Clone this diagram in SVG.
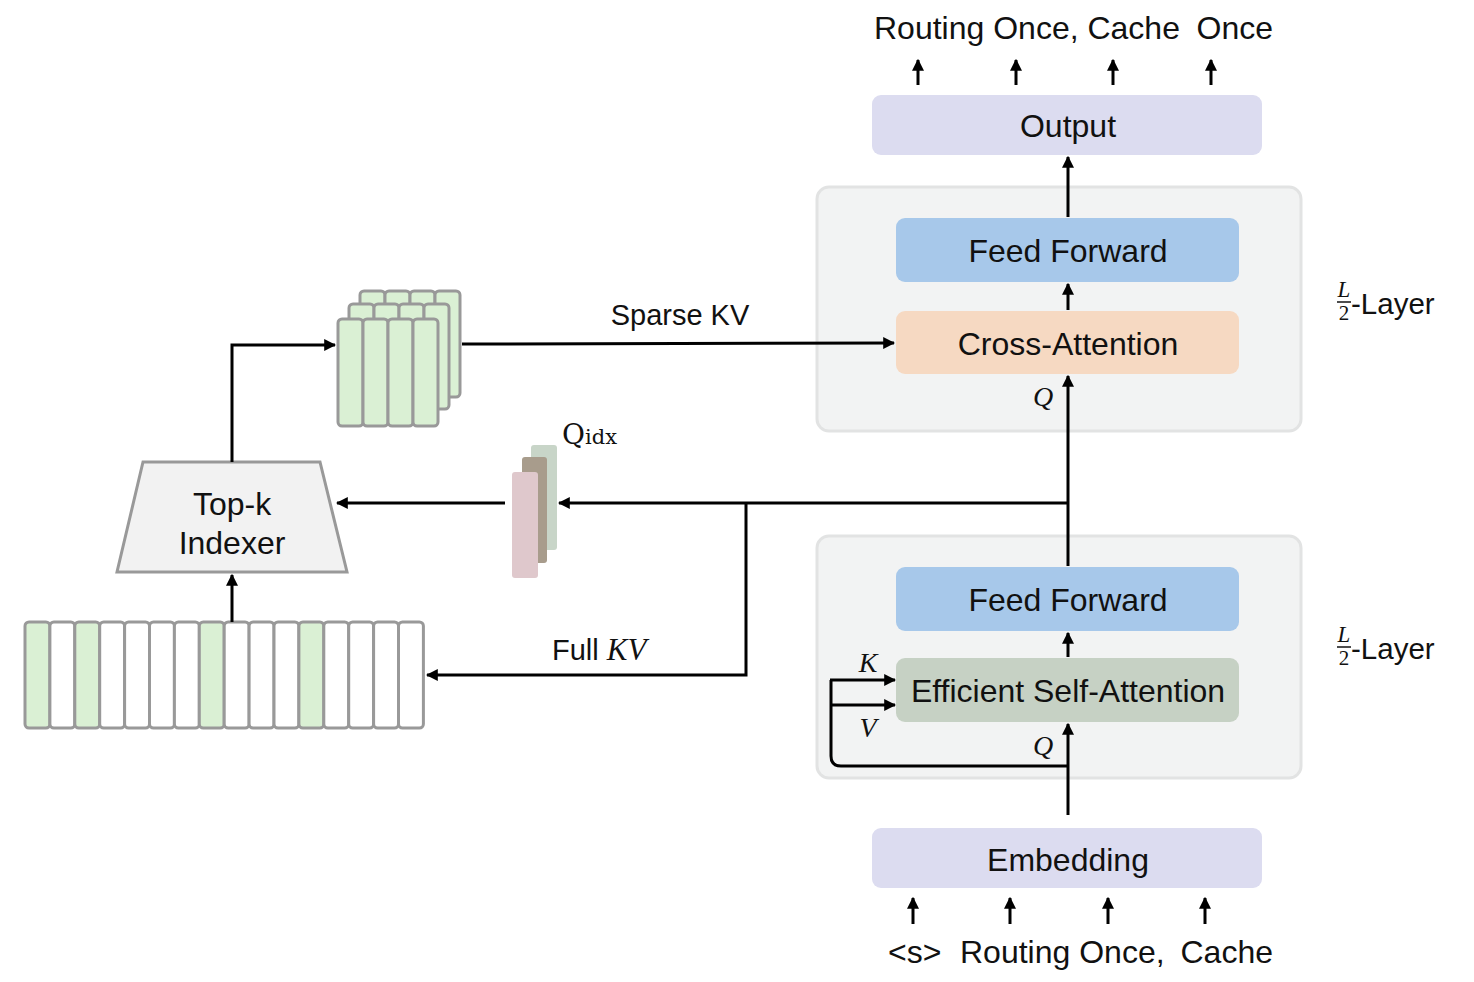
<svg xmlns="http://www.w3.org/2000/svg" width="1474" height="982" viewBox="0 0 1474 982">
<defs>
<marker id="ah" viewBox="0 0 10 10" refX="9" refY="5" markerWidth="4" markerHeight="4" markerUnits="strokeWidth" orient="auto">
<path d="M0,0 L10,5 L0,10 z" fill="#000"/>
</marker>
<style>
.t{font-family:"Liberation Sans",Arial,sans-serif;font-size:32px;fill:#111;}
.m{font-family:"Liberation Serif","DejaVu Serif",serif;font-style:italic;font-size:28px;fill:#111;}
.ln{fill:none;stroke:#000;stroke-width:3;}
.ar{fill:none;stroke:#000;stroke-width:3;marker-end:url(#ah);}
.panel{fill:#f2f3f3;stroke:#e2e3e3;stroke-width:3;}
.col{stroke:#999;stroke-width:3;}
.g{fill:#daf0d4;}
.w{fill:#fff;}
</style>
</defs>
<rect width="1474" height="982" fill="#fff"/>

<g id="panel-top"><rect class="panel" x="817" y="187" width="484" height="244" rx="12"/></g>
<g id="panel-bottom"><rect class="panel" x="817" y="536" width="484" height="242" rx="12"/></g>

<g id="output"><rect x="872" y="95" width="390" height="60" rx="9" fill="#dcdcf0"/><text class="t" x="1068" y="137" text-anchor="middle">Output</text></g>
<g id="ff-top"><rect x="896" y="218" width="343" height="64" rx="9" fill="#a7c8ea"/><text class="t" x="1068" y="262" text-anchor="middle">Feed Forward</text></g>
<g id="cross-attn"><rect x="896" y="311" width="343" height="63" rx="9" fill="#f6d9c2"/><text class="t" x="1068" y="355" text-anchor="middle">Cross-Attention</text></g>
<g id="ff-bottom"><rect x="896" y="567" width="343" height="64" rx="9" fill="#a7c8ea"/><text class="t" x="1068" y="611" text-anchor="middle">Feed Forward</text></g>
<g id="esa"><rect x="896" y="658" width="343" height="64" rx="9" fill="#c6d1c4"/><text class="t" x="1068" y="702" text-anchor="middle">Efficient Self-Attention</text></g>
<g id="embedding"><rect x="872" y="828" width="390" height="60" rx="9" fill="#dcdcf0"/><text class="t" x="1068" y="871" text-anchor="middle">Embedding</text></g>

<g id="topk"><polygon points="143,462 320,462 347,572 117,572" fill="#f2f2f2" stroke="#999" stroke-width="3"/><text class="t" x="232" y="515" text-anchor="middle">Top-k</text><text class="t" x="232" y="554" text-anchor="middle">Indexer</text></g>

<g id="sparse-kv">
<g transform="translate(360,291)">
<rect class="col g" x="0" y="0" width="25" height="106" rx="4"/><rect class="col g" x="25" y="0" width="25" height="106" rx="4"/><rect class="col g" x="50" y="0" width="25" height="106" rx="4"/><rect class="col g" x="75" y="0" width="25" height="106" rx="4"/>
</g>
<g transform="translate(349,304)">
<rect class="col g" x="0" y="0" width="25" height="105" rx="4"/><rect class="col g" x="25" y="0" width="25" height="105" rx="4"/><rect class="col g" x="50" y="0" width="25" height="105" rx="4"/><rect class="col g" x="75" y="0" width="25" height="105" rx="4"/>
</g>
<g transform="translate(338,319)">
<rect class="col g" x="0" y="0" width="25" height="107" rx="4"/><rect class="col g" x="25" y="0" width="25" height="107" rx="4"/><rect class="col g" x="50" y="0" width="25" height="107" rx="4"/><rect class="col g" x="75" y="0" width="25" height="107" rx="4"/>
</g>
</g>

<g id="full-kv" transform="translate(25,622)">
<rect class="col g" x="0" y="0" width="24.9" height="106" rx="4"/>
<rect class="col w" x="24.9" y="0" width="24.9" height="106" rx="4"/>
<rect class="col g" x="49.8" y="0" width="24.9" height="106" rx="4"/>
<rect class="col w" x="74.7" y="0" width="24.9" height="106" rx="4"/>
<rect class="col w" x="99.6" y="0" width="24.9" height="106" rx="4"/>
<rect class="col w" x="124.5" y="0" width="24.9" height="106" rx="4"/>
<rect class="col w" x="149.4" y="0" width="24.9" height="106" rx="4"/>
<rect class="col g" x="174.3" y="0" width="24.9" height="106" rx="4"/>
<rect class="col w" x="199.2" y="0" width="24.9" height="106" rx="4"/>
<rect class="col w" x="224.1" y="0" width="24.9" height="106" rx="4"/>
<rect class="col w" x="249" y="0" width="24.9" height="106" rx="4"/>
<rect class="col g" x="273.9" y="0" width="24.9" height="106" rx="4"/>
<rect class="col w" x="298.8" y="0" width="24.9" height="106" rx="4"/>
<rect class="col w" x="323.7" y="0" width="24.9" height="106" rx="4"/>
<rect class="col w" x="348.6" y="0" width="24.9" height="106" rx="4"/>
<rect class="col w" x="373.5" y="0" width="24.9" height="106" rx="4"/>
</g>

<g id="qidx">
<rect x="531" y="445" width="26" height="105" rx="3" fill="#c8d5c8"/>
<rect x="522" y="457" width="25" height="106" rx="3" fill="#a89c8c"/>
<rect x="512" y="472" width="26" height="106" rx="3" fill="#dfc8cc"/>
<text x="562" y="444" style="font-family:'DejaVu Serif','Liberation Serif',serif;font-size:28px" fill="#111">Q<tspan style="font-size:21px">idx</tspan></text>
</g>

<g id="connectors">
<line class="ar" x1="1068" y1="217" x2="1068" y2="157"/>
<line class="ar" x1="1068" y1="310" x2="1068" y2="284"/>
<line class="ar" x1="1068" y1="566" x2="1068" y2="376"/>
<line class="ar" x1="1068" y1="657" x2="1068" y2="633"/>
<line class="ar" x1="1068" y1="815" x2="1068" y2="724"/>
<path class="ln" d="M1068,766 L841,766 Q831,766 831,756 L831,680"/>
<line class="ar" x1="830" y1="680" x2="895" y2="680"/>
<line class="ar" x1="831" y1="705" x2="895" y2="705"/>
<line class="ar" x1="1068" y1="503" x2="559" y2="503"/>
<line class="ar" x1="505" y1="503" x2="337" y2="503"/>
<polyline class="ar" points="746,503 746,675 427,675"/>
<polyline class="ar" points="232,462 232,345 335,345"/>
<line class="ar" x1="232" y1="622" x2="232" y2="575"/>
<line class="ar" x1="462" y1="344" x2="894" y2="343"/>
<line class="ar" x1="918" y1="85" x2="918" y2="60"/>
<line class="ar" x1="1016" y1="85" x2="1016" y2="60"/>
<line class="ar" x1="1113" y1="85" x2="1113" y2="60"/>
<line class="ar" x1="1211" y1="85" x2="1211" y2="60"/>
<line class="ar" x1="913" y1="924" x2="913" y2="898"/>
<line class="ar" x1="1010" y1="924" x2="1010" y2="898"/>
<line class="ar" x1="1108" y1="924" x2="1108" y2="898"/>
<line class="ar" x1="1205" y1="924" x2="1205" y2="898"/>
</g>

<g id="labels">
<text class="t" x="874" y="39">Routing Once, Cache</text>
<text class="t" x="1273" y="39" text-anchor="end">Once</text>
<text class="t" x="888" y="963">&lt;s&gt;</text>
<text class="t" x="960" y="963">Routing Once,</text>
<text class="t" x="1273" y="963" text-anchor="end">Cache</text>
<text class="t" x="680" y="325" text-anchor="middle" style="font-size:29px">Sparse KV</text>
<text class="t" x="552" y="660" style="font-size:29px">Full <tspan class="m" style="font-size:31px">KV</tspan></text>
<text class="m" x="1043" y="406" text-anchor="middle">Q</text>
<text class="m" x="1043" y="755" text-anchor="middle">Q</text>
<text class="m" x="868" y="672" text-anchor="middle">K</text>
<text class="m" x="868" y="737" text-anchor="middle">V</text>
<g id="layer-top">
<text class="m" x="1344" y="297" text-anchor="middle" style="font-size:23px">L</text>
<line x1="1337" y1="302" x2="1351" y2="302" stroke="#000" stroke-width="1.4"/>
<text x="1344" y="320" text-anchor="middle" style="font-family:'Liberation Serif',serif;font-size:21px" fill="#111">2</text>
<text class="t" x="1351" y="314" style="font-size:29.5px">-Layer</text>
</g>
<g id="layer-bottom">
<text class="m" x="1344" y="642" text-anchor="middle" style="font-size:23px">L</text>
<line x1="1337" y1="647" x2="1351" y2="647" stroke="#000" stroke-width="1.4"/>
<text x="1344" y="665" text-anchor="middle" style="font-family:'Liberation Serif',serif;font-size:21px" fill="#111">2</text>
<text class="t" x="1351" y="659" style="font-size:29.5px">-Layer</text>
</g>
</g>
</svg>
